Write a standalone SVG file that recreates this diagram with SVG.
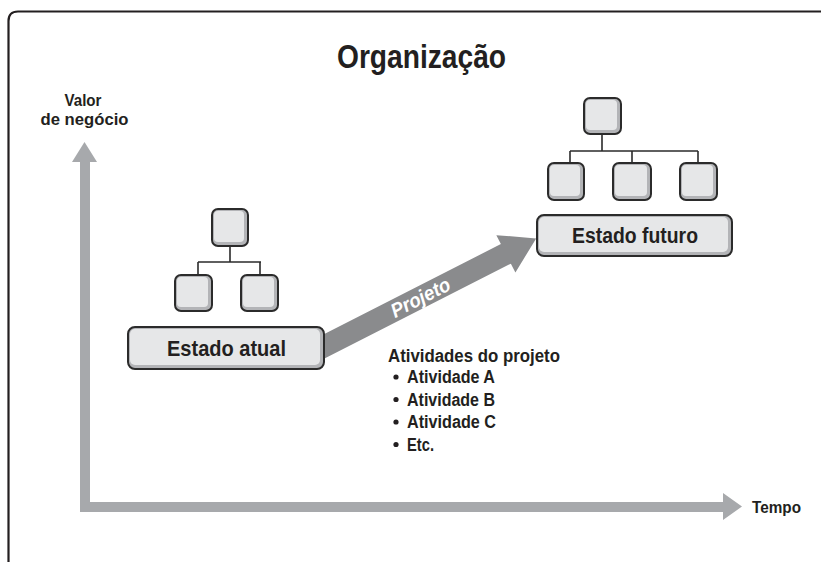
<svg xmlns="http://www.w3.org/2000/svg" width="821" height="562" viewBox="0 0 821 562">
<defs>
<style>
.t{font-family:"Liberation Sans Narrow","Liberation Sans",Arial,sans-serif;font-weight:bold;fill:#231f20}
.o{fill:#b3b4b7;stroke:#2b2b2b;stroke-width:2}
.i{fill:#e6e7e8;stroke:none}
.ln{fill:none;stroke:#2b2b2b;stroke-width:1.6}
.ax{fill:#a7a9ac}
</style>
</defs>
<rect width="821" height="562" fill="#ffffff"/>
<path d="M8.5,562 V21 Q8.5,11.5 18,11.5 H821" fill="none" stroke="#231f20" stroke-width="2.2"/>
<text class="t" x="421.5" y="68" font-size="33" text-anchor="middle" textLength="169" lengthAdjust="spacingAndGlyphs">Organização</text>
<g id="axes">
<path class="ax" d="M80,512 V162 H72 L84.5,142 L97,162 H90 V502 H723 V493 L742,506.5 L723,520 V512 Z"/>
</g>
<g id="label-valor">
<text class="t" x="83" y="106" font-size="17" text-anchor="middle" textLength="37" lengthAdjust="spacingAndGlyphs">Valor</text>
<text class="t" x="84.5" y="125" font-size="17" text-anchor="middle" textLength="88" lengthAdjust="spacingAndGlyphs">de negócio</text>
</g>
<g id="label-tempo">
<text class="t" x="752" y="513" font-size="16.5" textLength="49" lengthAdjust="spacingAndGlyphs">Tempo</text>
</g>
<g id="connectors">
<g transform="translate(325,346) rotate(-27)">
<path d="M-10,-11 H203 V-21 L237,0 L203,21 V11 H-10 Z" fill="#8a8b8d"/>
<text x="107" y="7" font-size="20" font-style="italic" font-weight="bold" font-family="&quot;Liberation Sans Narrow&quot;,&quot;Liberation Sans&quot;,Arial,sans-serif" fill="#ffffff" text-anchor="middle" textLength="64" lengthAdjust="spacingAndGlyphs">Projeto</text>
</g>
<path class="ln" d="M230,246 V262 M198,262 H261 M198,262 V275 M260,262 V275"/>
<path class="ln" d="M602,134 V151 M570,151 H698 M570,151 V163 M632,151 V163 M698,151 V163"/>
</g>
<g id="estado-atual">
<g id="ea-top"><rect class="o" x="212" y="209" width="36" height="37" rx="6"/><rect class="i" x="214" y="211" width="30" height="31" rx="4"/></g>
<g id="ea-left"><rect class="o" x="175" y="275" width="37" height="36" rx="6"/><rect class="i" x="177" y="277" width="31" height="30" rx="4"/></g>
<g id="ea-right"><rect class="o" x="241" y="275" width="37" height="36" rx="6"/><rect class="i" x="243" y="277" width="31" height="30" rx="4"/></g>
<rect class="o" x="128" y="327" width="196" height="42" rx="7"/>
<rect class="i" x="130" y="329" width="190" height="36" rx="5"/>
<text class="t" x="226.5" y="356" font-size="21.5" text-anchor="middle" textLength="119" lengthAdjust="spacingAndGlyphs">Estado atual</text>
</g>
<g id="estado-futuro">
<g id="ef-top"><rect class="o" x="584" y="98" width="37" height="36" rx="6"/><rect class="i" x="586" y="100" width="31" height="30" rx="4"/></g>
<g id="ef-1"><rect class="o" x="548" y="163" width="36" height="37" rx="6"/><rect class="i" x="550" y="165" width="30" height="31" rx="4"/></g>
<g id="ef-2"><rect class="o" x="613" y="163" width="38" height="37" rx="6"/><rect class="i" x="615" y="165" width="32" height="31" rx="4"/></g>
<g id="ef-3"><rect class="o" x="680" y="163" width="37" height="37" rx="6"/><rect class="i" x="682" y="165" width="31" height="31" rx="4"/></g>
<rect class="o" x="537" y="215" width="195" height="41" rx="7"/>
<rect class="i" x="539" y="217" width="189" height="35" rx="5"/>
<text class="t" x="635" y="243" font-size="21.5" text-anchor="middle" textLength="126" lengthAdjust="spacingAndGlyphs">Estado futuro</text>
</g>
<g id="atividades">
<text class="t" x="388" y="362" font-size="18" textLength="172" lengthAdjust="spacingAndGlyphs">Atividades do projeto</text>
<g class="t" font-size="18">
<circle cx="396" cy="377" r="2.6" fill="#231f20"/>
<text x="407" y="383" textLength="88" lengthAdjust="spacingAndGlyphs">Atividade A</text>
<circle cx="396" cy="399.5" r="2.6" fill="#231f20"/>
<text x="407" y="405.5" textLength="88" lengthAdjust="spacingAndGlyphs">Atividade B</text>
<circle cx="396" cy="422" r="2.6" fill="#231f20"/>
<text x="407" y="428" textLength="89" lengthAdjust="spacingAndGlyphs">Atividade C</text>
<circle cx="396" cy="444.5" r="2.6" fill="#231f20"/>
<text x="407" y="450.5" textLength="27" lengthAdjust="spacingAndGlyphs">Etc.</text>
</g>
</g>
</svg>
